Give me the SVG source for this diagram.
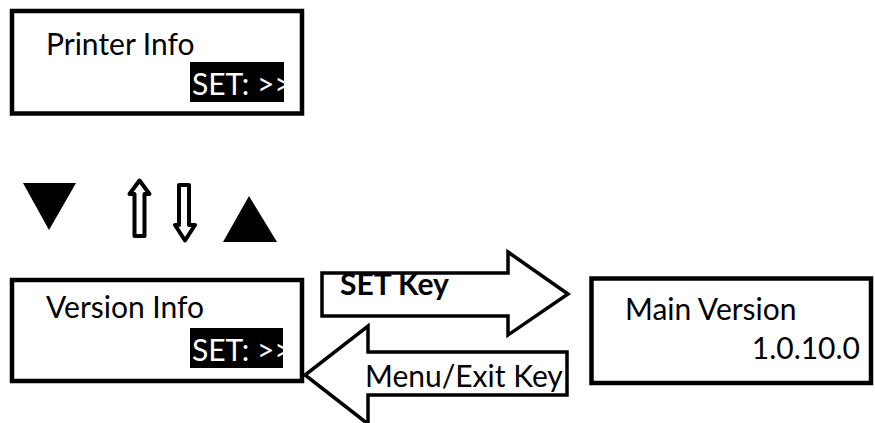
<svg xmlns="http://www.w3.org/2000/svg" width="875" height="423" viewBox="0 0 875 423">
<style>
.box{fill:#fff;stroke:#000;stroke-width:4.5}
.t{font-family:Lato,"Open Sans","Liberation Sans",sans-serif;font-size:30px;fill:#000}
.w{fill:#fff}
.b{font-weight:bold}
.arr{fill:#fff;stroke:#000;stroke-width:3.5;stroke-linejoin:miter}
.hol{fill:#fff;stroke:#000;stroke-width:4;stroke-linejoin:round}
</style>
<rect width="875" height="423" fill="#fff"/>
<g id="printer-info">
<rect class="box" x="12" y="11" width="290" height="102.5"/>
<text class="t" x="46" y="55">Printer Info</text>
<rect x="190" y="62" width="94" height="40" fill="#000"/>
<text class="t w" x="192" y="95">SET: &gt;&gt;</text>
</g>
<g id="nav-symbols">
<polygon points="23,183 76,183 49,230" fill="#000"/>
<polygon class="hol" points="139.5,180.5 149.5,194 144.5,194 144.5,236 134.5,236 134.5,194 129.5,194"/>
<polygon class="hol" points="179,185 189,185 189,225 195,225 185,240.5 175,225 179,225"/>
<polygon points="249,196 277,242 223,242" fill="#000"/>
</g>
<g id="version-info">
<rect class="box" x="12" y="280" width="290" height="101"/>
<text class="t" x="46" y="318">Version Info</text>
<rect x="190" y="328" width="93" height="40" fill="#000"/>
<text class="t w" x="192" y="361">SET: &gt;&gt;</text>
</g>
<g id="main-version">
<rect class="box" x="591.5" y="278.5" width="279.5" height="104.5"/>
<text class="t" x="625" y="320">Main Version</text>
<text class="t" x="860" y="359" text-anchor="end">1.0.10.0</text>
</g>
<g id="connectors">
<g id="set-key">
<polygon class="arr" points="322,273 508,273 508,252 568,294 508,335 508,316 322,316"/>
<text class="t b" x="340" y="295">SET Key</text>
</g>
<g id="menu-exit-key">
<polygon class="arr" points="567,352 368,352 368,326 305,375 368,424 368,395 567,395"/>
<text class="t" x="365" y="387">Menu/Exit Key</text>
</g>
</g>
</svg>
